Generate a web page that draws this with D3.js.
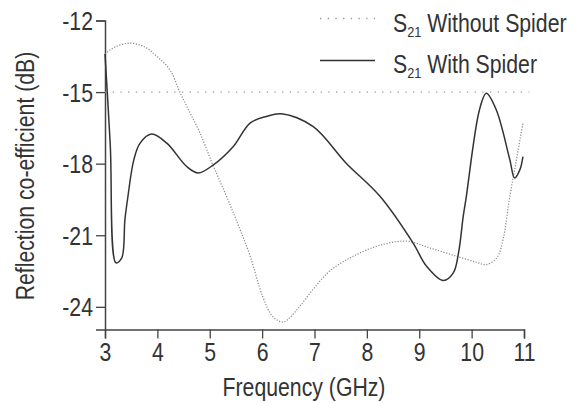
<!DOCTYPE html>
<html>
<head>
<meta charset="utf-8">
<script src="https://cdn.jsdelivr.net/npm/d3@7"></script>
<style>
  html, body { margin: 0; padding: 0; background: #fff; }
  svg { display: block; }
  text { font-family: "Liberation Sans", Arial, sans-serif; fill: #333; }
</style>
</head>
<body>
<svg id="chart" width="583" height="403"></svg>
<script>
// ---- data ----
const freqWithout = [3.0, 3.2, 3.48, 3.75, 4.0, 4.24, 4.43, 4.62, 4.81, 5.05, 5.32, 5.55, 5.76, 6.01, 6.2, 6.4, 6.53, 6.72, 6.97, 7.29, 7.74, 8.25, 8.76, 9.2, 9.71, 10.09, 10.28, 10.48, 10.6, 10.72, 10.85, 10.98];
const s21Without = [-13.4, -13.1, -12.95, -13.1, -13.52, -14.07, -15.0, -15.85, -16.7, -18.0, -19.37, -20.6, -21.8, -23.56, -24.4, -24.64, -24.45, -23.97, -23.28, -22.5, -21.88, -21.42, -21.25, -21.53, -21.88, -22.13, -22.23, -21.95, -21.18, -19.5, -17.9, -16.3];

const freqWith = [3.0, 3.1, 3.21, 3.32, 3.38, 3.43, 3.55, 3.67, 3.89, 4.18, 4.56, 4.78, 5.07, 5.45, 5.77, 6.08, 6.37, 6.97, 7.6, 8.25, 8.88, 9.14, 9.46, 9.65, 9.75, 9.84, 9.89, 10.15, 10.28, 10.47, 10.73, 10.82, 10.92, 10.98];
const s21With = [-13.4, -17.2, -22.16, -21.95, -20.35, -19.5, -17.84, -17.14, -16.76, -17.14, -18.12, -18.39, -18.05, -17.28, -16.3, -16.02, -15.91, -16.44, -17.97, -19.37, -21.32, -22.3, -22.9, -22.58, -21.74, -20.2, -19.51, -15.74, -15.05, -15.74, -17.84, -18.6, -18.26, -17.7];

const thresholdValue = -15;
const xTicks = [3, 4, 5, 6, 7, 8, 9, 10, 11];
const yTicks = [-12, -15, -18, -21, -24];
const legendLabels = ["Without Spider", "With Spider"];
const xTitle = "Frequency (GHz)";
const yTitle = "Reflection co-efficient (dB)";

// ---- layout ----
const svg = d3.select("#chart");
const x = d3.scaleLinear().domain([3, 11]).range([105, 524]);
const y = d3.scaleLinear().domain([-24.95, -12]).range([329.5, 20.5]);

const axisColor = "#444";
const fontSize = 25;
const squeeze = 0.85; // condensed look

// x axis
const gx = svg.append("g").attr("transform", `translate(0,${y.range()[0]})`)
  .call(d3.axisBottom(x).tickValues(xTicks).tickFormat(d3.format("d")).tickSizeOuter(0).tickSize(9).tickPadding(5));
// y axis
const gy = svg.append("g").attr("transform", `translate(${x.range()[0]},0)`)
  .call(d3.axisLeft(y).tickValues(yTicks).tickFormat(d => String(d)).tickSizeOuter(0).tickSize(9).tickPadding(3));

[gx, gy].forEach(g => {
  g.select(".domain").attr("stroke", axisColor).attr("stroke-width", 1.5);
  g.selectAll(".tick line").attr("stroke", axisColor).attr("stroke-width", 1.3);
  g.selectAll(".tick text").attr("font-size", fontSize)
    .attr("font-family", '"Liberation Sans", Arial, sans-serif')
    .attr("fill", "#333");
});
gx.selectAll(".tick text").attr("transform", `scale(${squeeze},1)`);
gy.selectAll(".tick text").attr("x", 0).attr("dy", "0.36em")
  .attr("transform", `translate(-12,0) scale(${squeeze},1)`);

// threshold line
svg.append("line")
  .attr("x1", x(3)).attr("x2", x(11.1))
  .attr("y1", y(thresholdValue)).attr("y2", y(thresholdValue))
  .attr("stroke", "#999").attr("stroke-width", 1.4)
  .attr("stroke-dasharray", "1.3,6.4");

const line = d3.line().curve(d3.curveCatmullRom.alpha(0.5));

// without spider (dotted)
svg.append("path")
  .attr("d", line(freqWithout.map((f, i) => [x(f), y(s21Without[i])])))
  .attr("fill", "none").attr("stroke", "#888").attr("stroke-width", 1.2)
  .attr("stroke-dasharray", "1.2,1.6");

// with spider (solid)
svg.append("path")
  .attr("d", line(freqWith.map((f, i) => [x(f), y(s21With[i])])))
  .attr("fill", "none").attr("stroke", "#333").attr("stroke-width", 1.5);

// legend
const legendRows = [
  { label: legendLabels[0], ly: 18.5, ty: 32, dash: "1.3,6.4", color: "#999" },
  { label: legendLabels[1], ly: 60.5, ty: 73, dash: null, color: "#333" }
];
legendRows.forEach(r => {
  const ln = svg.append("line").attr("x1", 320).attr("x2", 375).attr("y1", r.ly).attr("y2", r.ly)
    .attr("stroke", r.color).attr("stroke-width", 1.5);
  if (r.dash) ln.attr("stroke-dasharray", r.dash);
  const t = svg.append("text").attr("transform", `translate(393,${r.ty}) scale(${squeeze},1)`)
    .attr("font-size", fontSize);
  t.append("tspan").text("S");
  t.append("tspan").attr("font-size", 15).attr("dy", 5).text("21");
  t.append("tspan").attr("dy", -5).text(" " + r.label);
});

// axis titles
svg.append("text").attr("transform", `translate(304,396) scale(${squeeze},1)`).attr("text-anchor", "middle")
  .attr("font-size", fontSize).text(xTitle);
svg.append("text").attr("transform", `translate(34,176) rotate(-90) scale(${squeeze},1)`).attr("text-anchor", "middle")
  .attr("font-size", fontSize).text(yTitle);
</script>
</body>
</html>
